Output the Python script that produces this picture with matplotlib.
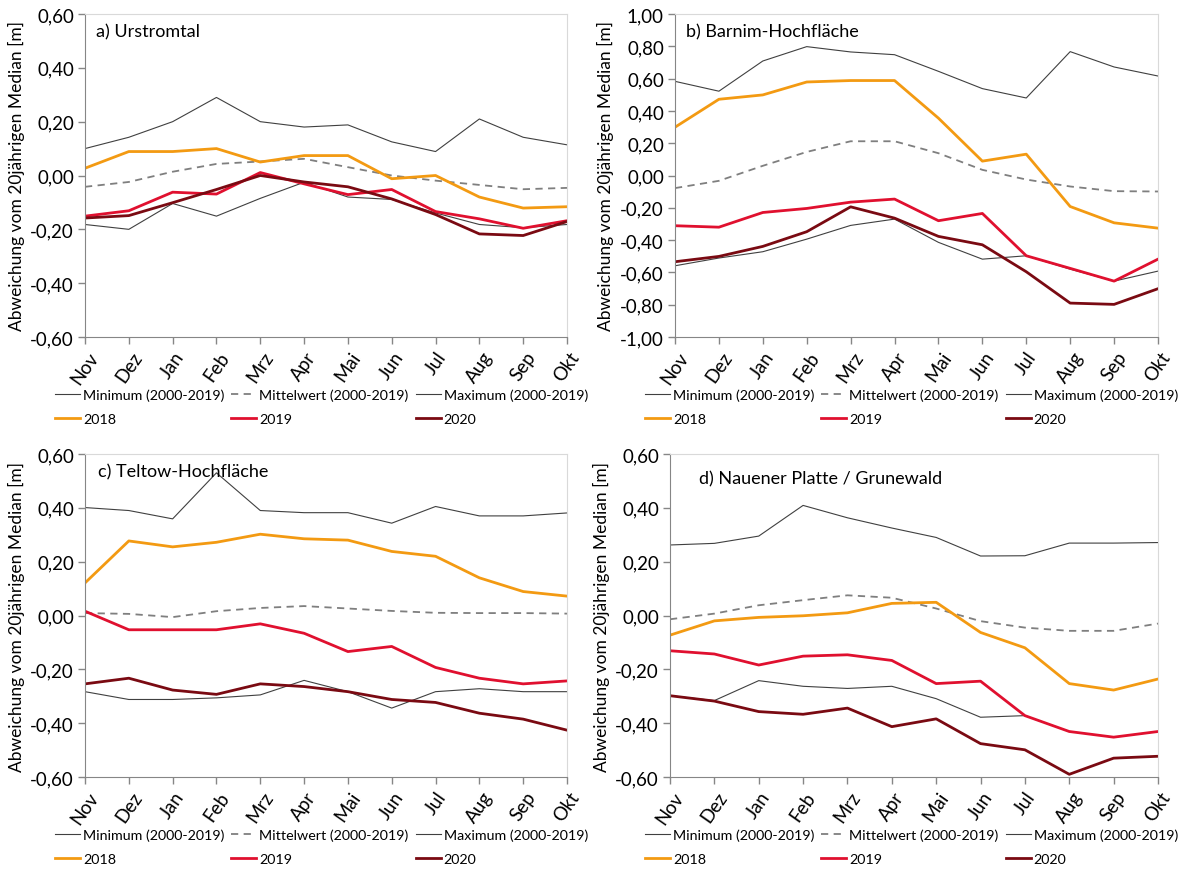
import matplotlib
matplotlib.use("Agg")
import matplotlib.pyplot as plt
from matplotlib.ticker import FixedLocator, FuncFormatter

plt.rcParams["font.family"] = ["Lato", "DejaVu Sans"]

months = ["Nov", "Dez", "Jan", "Feb", "Mrz", "Apr", "Mai", "Jun", "Jul", "Aug", "Sep", "Okt"]

# a) Urstromtal
a_min = [-0.182, -0.200, -0.104, -0.151, -0.085, -0.025, -0.080, -0.089, -0.139, -0.182, -0.194, -0.182]
a_mean = [-0.042, -0.024, 0.014, 0.043, 0.052, 0.062, 0.031, 0.000, -0.019, -0.035, -0.051, -0.046]
a_max = [0.100, 0.142, 0.200, 0.290, 0.200, 0.180, 0.188, 0.125, 0.089, 0.210, 0.142, 0.114]
a_2018 = [0.027, 0.089, 0.089, 0.100, 0.050, 0.074, 0.074, -0.012, 0.000, -0.080, -0.121, -0.116]
a_2019 = [-0.151, -0.131, -0.062, -0.069, 0.011, -0.031, -0.071, -0.052, -0.134, -0.161, -0.196, -0.168]
a_2020 = [-0.158, -0.149, -0.101, -0.052, 0.000, -0.024, -0.042, -0.087, -0.145, -0.217, -0.223, -0.171]

# b) Barnim-Hochfläche
b_min = [-0.559, -0.511, -0.472, -0.394, -0.309, -0.270, -0.414, -0.518, -0.497, -0.580, -0.654, -0.592]
b_mean = [-0.078, -0.033, 0.060, 0.146, 0.212, 0.212, 0.138, 0.035, -0.025, -0.068, -0.097, -0.099]
b_max = [0.583, 0.522, 0.709, 0.798, 0.765, 0.748, 0.645, 0.538, 0.480, 0.767, 0.672, 0.616]
b_2018 = [0.299, 0.472, 0.499, 0.579, 0.588, 0.588, 0.355, 0.089, 0.132, -0.192, -0.293, -0.326]
b_2019 = [-0.311, -0.320, -0.229, -0.204, -0.165, -0.146, -0.280, -0.235, -0.497, -0.575, -0.654, -0.518]
b_2020 = [-0.534, -0.501, -0.439, -0.348, -0.194, -0.264, -0.377, -0.429, -0.596, -0.790, -0.798, -0.701]

# c) Teltow-Hochfläche
c_min = [-0.283, -0.312, -0.312, -0.306, -0.295, -0.241, -0.283, -0.344, -0.283, -0.272, -0.283, -0.283]
c_mean = [0.009, 0.006, -0.006, 0.016, 0.028, 0.035, 0.026, 0.017, 0.010, 0.009, 0.009, 0.007]
c_max = [0.401, 0.390, 0.359, 0.530, 0.390, 0.382, 0.382, 0.343, 0.405, 0.370, 0.370, 0.381]
c_2018 = [0.121, 0.277, 0.255, 0.272, 0.302, 0.285, 0.280, 0.238, 0.220, 0.140, 0.089, 0.072]
c_2019 = [0.016, -0.053, -0.053, -0.053, -0.031, -0.066, -0.134, -0.115, -0.193, -0.233, -0.254, -0.243]
c_2020 = [-0.254, -0.233, -0.277, -0.293, -0.254, -0.264, -0.283, -0.312, -0.323, -0.363, -0.385, -0.426]

# d) Nauener Platte / Grunewald
d_min = [-0.298, -0.316, -0.242, -0.263, -0.271, -0.263, -0.309, -0.378, -0.372, -0.431, -0.452, -0.431]
d_mean = [-0.014, 0.007, 0.038, 0.057, 0.075, 0.066, 0.026, -0.021, -0.045, -0.057, -0.057, -0.030]
d_max = [0.262, 0.268, 0.295, 0.409, 0.363, 0.325, 0.290, 0.221, 0.222, 0.269, 0.269, 0.271]
d_2018 = [-0.073, -0.020, -0.007, -0.001, 0.010, 0.045, 0.049, -0.063, -0.120, -0.253, -0.277, -0.236]
d_2019 = [-0.131, -0.143, -0.184, -0.151, -0.146, -0.167, -0.253, -0.244, -0.372, -0.431, -0.452, -0.431]
d_2020 = [-0.298, -0.318, -0.357, -0.367, -0.344, -0.413, -0.384, -0.476, -0.499, -0.590, -0.530, -0.523]

titles = ["a) Urstromtal", "b) Barnim-Hochfläche", "c) Teltow-Hochfläche", "d) Nauener Platte / Grunewald"]
ylims = [(-0.6, 0.6), (-1.0, 1.0), (-0.6, 0.6), (-0.6, 0.6)]

panels = [
    (a_min, a_mean, a_max, a_2018, a_2019, a_2020),
    (b_min, b_mean, b_max, b_2018, b_2019, b_2020),
    (c_min, c_mean, c_max, c_2018, c_2019, c_2020),
    (d_min, d_mean, d_max, d_2018, d_2019, d_2020),
]

W, H = 1181, 878
# axes boxes in pixels: left, right, top, bottom
boxes = [(85, 567, 15, 338), (675, 1158, 15, 338), (85, 567, 455, 778), (670, 1158, 455, 778)]
legend_x = [55, 645, 55, 645]
title_pos = [(0.023, 0.947), (0.023, 0.947), (0.027, 0.947), (0.06, 0.925)]

fig = plt.figure(figsize=(W / 100, H / 100), dpi=100)

x = list(range(len(months)))
axis_col = "#868686"

for i, (vals, box) in enumerate(zip(panels, boxes)):
    l, r, t, b = box
    ax = fig.add_axes([l / W, 1 - b / H, (r - l) / W, (b - t) / H])
    vmin, vmean, vmax, v18, v19, v20 = vals

    h_min, = ax.plot(x, vmin, color="#404040", lw=0.8, label="Minimum (2000-2019)")
    h_mean, = ax.plot(x, vmean, color="#7f7f7f", lw=1.3, ls=(0, (4, 3)), label="Mittelwert (2000-2019)")
    h_max, = ax.plot(x, vmax, color="#404040", lw=0.8, label="Maximum (2000-2019)")
    h18, = ax.plot(x, v18, color="#F39A12", lw=2.0, label="2018")
    h19, = ax.plot(x, v19, color="#E0102F", lw=2.0, label="2019")
    h20, = ax.plot(x, v20, color="#7A0A12", lw=2.0, label="2020")

    lo, hi = ylims[i]
    ax.set_xlim(0, len(months) - 1)
    ax.set_ylim(lo, hi)
    yt = [round(lo + k * 0.2, 2) for k in range(int(round((hi - lo) / 0.2)) + 1)]
    ax.yaxis.set_major_locator(FixedLocator(yt))
    ax.yaxis.set_major_formatter(FuncFormatter(lambda v, p: f"{v:.2f}".replace(".", ",").replace("-0,00", "0,00")))
    ax.set_xticks(x)
    ax.set_xticklabels(months, rotation=55, ha="center", va="top")

    ax.tick_params(axis="both", labelsize=13.5, colors=axis_col, labelcolor="black", length=5, width=1)
    ax.tick_params(axis="x", pad=3)
    ax.tick_params(axis="y", pad=3)
    for s in ["top", "right"]:
        ax.spines[s].set_color("#d9d9d9")
    for s in ["left", "bottom"]:
        ax.spines[s].set_color(axis_col)

    ax.set_ylabel("Abweichung vom 20jährigen Median [m]", fontsize=12.5, labelpad=4)
    ax.text(title_pos[i][0], title_pos[i][1], titles[i], transform=ax.transAxes,
            fontsize=13, ha="left", va="center")

    handles = [h_min, h18, h_mean, h19, h_max, h20]
    ax.legend(handles=handles, labels=[h.get_label() for h in handles], ncol=3,
              loc="upper left", bbox_to_anchor=((legend_x[i] - l) / (r - l), -51 / (b - t)),
              frameon=False, fontsize=10.3, handlelength=1.75, handletextpad=0.2,
              columnspacing=0.5, labelspacing=0.9, borderpad=0, borderaxespad=0)

fig.savefig("out.png", dpi=100)
